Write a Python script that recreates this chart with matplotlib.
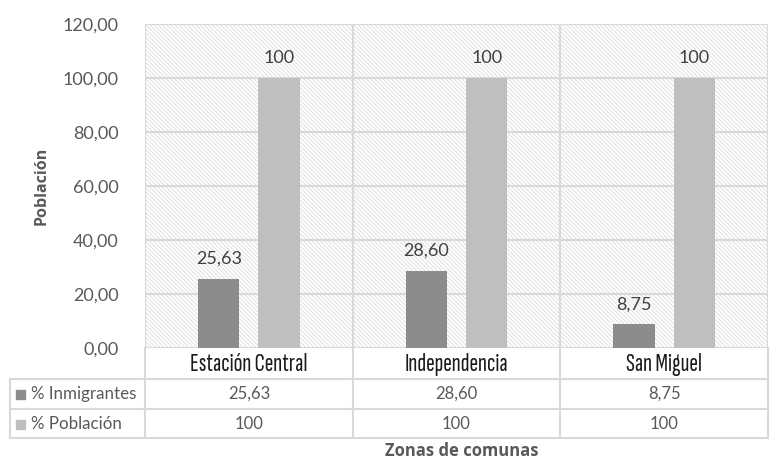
import os
import matplotlib
matplotlib.use("Agg")
import matplotlib.pyplot as plt
from matplotlib.transforms import blended_transform_factory
from matplotlib.font_manager import fontManager, FontProperties
from matplotlib.textpath import TextPath
import numpy as np

plt.rcParams['hatch.linewidth'] = 0.6

# Data
comunas = ["Estación Central", "Independencia", "San Miguel"]
inmigrantes = [25.63, 28.60, 8.75]
poblacion = [100, 100, 100]
inmigrantes_txt = ["25,63", "28,60", "8,75"]
poblacion_txt = ["100", "100", "100"]
series_names = ["% Inmigrantes", "% Población"]
yticks = [0, 20, 40, 60, 80, 100, 120]

c_dark = "#8c8c8c"
c_light = "#bfbfbf"
grid_c = "#d9d9d9"
txt_c = "#595959"
lbl_c = "#404040"
num_font = "Lato"


def pick_narrow_font(sample, target_px):
    """Pick the narrowest regular-weight condensed sans face and size it to target width."""
    best = None
    for f in fontManager.ttflist:
        base = os.path.basename(f.fname).lower()
        if "serif" in base or "mono" in base or "serif" in f.name.lower():
            continue
        if not ("sans" in base or "roboto" in base or "lato" in base or "inter" in base):
            continue
        narrowish = ("narrow" in base or "condensed" in base
                     or str(f.stretch) in ("condensed", "semi-condensed", "extra-condensed"))
        if not narrowish or f.style != "normal":
            continue
        if f.weight not in (300, 400, "normal", "regular", "light", "book"):
            continue
        try:
            fp = FontProperties(fname=f.fname, size=10)
            w = TextPath((0, 0), sample, prop=fp).get_extents().width
            h = TextPath((0, 0), "E", prop=fp).get_extents().height
        except Exception:
            continue
        ratio = w / h
        if best is None or ratio < best[0]:
            best = (ratio, f.fname, w)
    if best is None:
        return dict(family="DejaVu Sans", fontstretch="condensed", fontsize=12)
    size = 10 * target_px / (best[2] * 100 / 72)
    return dict(fontproperties=FontProperties(fname=best[1], size=size))


cat_kw = pick_narrow_font("Estación Central", 115)

W, H = 770, 465
fig = plt.figure(figsize=(W / 100, H / 100), dpi=100)
ax = fig.add_axes([145 / W, 1 - 348 / H, 623 / W, 324 / H])

x = np.arange(len(comunas))
bw = 0.2
off = 0.145

# hatched plot background
ax.add_patch(plt.Rectangle((0, 0), 1, 1, transform=ax.transAxes, facecolor="white",
                           edgecolor="#dcdcdc", hatch="\\" * 8, lw=0, zorder=0))
ax.set_facecolor("white")

ax.bar(x - off, inmigrantes, bw, color=c_dark, zorder=3)
ax.bar(x + off, poblacion, bw, color=c_light, zorder=3)

for xi, v, t in zip(x - off, inmigrantes, inmigrantes_txt):
    ax.text(xi, v + 4.5, t, ha="center", va="bottom", fontsize=13,
            color=lbl_c, family=num_font)
for xi, v, t in zip(x + off, poblacion, poblacion_txt):
    ax.text(xi, v + 4.5, t, ha="center", va="bottom", fontsize=13,
            color=lbl_c, family=num_font)

ax.set_xlim(-0.5, len(comunas) - 0.5)
ax.set_ylim(0, 120)
ax.set_yticks(yticks)
ax.set_yticklabels([f"{v:.2f}".replace(".", ",") for v in yticks],
                   fontsize=13, color=txt_c, family=num_font)
ax.tick_params(axis="y", length=0, pad=19)
ax.set_xticks([])
for y in yticks:
    ax.axhline(y, color=grid_c, lw=1.5, zorder=1)
for b in np.arange(-0.5, len(comunas), 1.0):
    ax.axvline(b, color=grid_c, lw=1.5, zorder=1)
for s in ax.spines.values():
    s.set_visible(False)

ax.set_ylabel("Población", fontsize=11.5, fontweight="bold", color=txt_c,
              family="Open Sans", labelpad=9)

# data table beneath the axis
tr = blended_transform_factory(ax.transData, fig.transFigure)
def fy(py):
    return 1 - py / H

rows_y = [348, 379, 409, 438]
fx_left = 10 / W
for yy in rows_y[1:]:
    fig.add_artist(plt.Line2D([fx_left, 768 / W], [fy(yy)] * 2, color=grid_c, lw=1.5))
fig.add_artist(plt.Line2D([fx_left, fx_left], [fy(379), fy(438)], color=grid_c, lw=1.5))
for b in np.arange(-0.5, len(comunas), 1.0):
    fig.add_artist(plt.Line2D([b, b], [fy(348), fy(438)], color=grid_c, lw=1.5,
                              transform=tr))

for xi, name in zip(x, comunas):
    fig.text(xi, fy(364), name, transform=tr, ha="center", va="center",
             color="#1a1a1a", **cat_kw)
for xi, t in zip(x, inmigrantes_txt):
    fig.text(xi, fy(394), t, transform=tr, ha="center", va="center",
             fontsize=12, color=txt_c, family=num_font)
for xi, t in zip(x, poblacion_txt):
    fig.text(xi, fy(424), t, transform=tr, ha="center", va="center",
             fontsize=12, color=txt_c, family=num_font)

for name, col, yy in zip(series_names, [c_dark, c_light], [394, 424]):
    fig.patches.append(plt.Rectangle((16 / W, fy(yy) - 4.5 / H), 9 / W, 9 / H,
                                     transform=fig.transFigure, color=col))
    fig.text(31 / W, fy(yy), name, ha="left", va="center", fontsize=12.2,
             color=txt_c, family=num_font)

fig.text(462 / W, fy(451), "Zonas de comunas", ha="center", va="center",
         fontsize=12, fontweight="bold", color=txt_c, family="Open Sans")

fig.savefig("out.png", dpi=100)
